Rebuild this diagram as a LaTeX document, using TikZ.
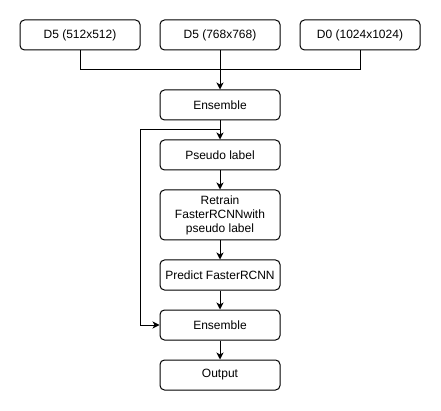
\documentclass[tikz,border=0pt]{standalone}
\usepackage{fontspec}
\setmainfont{Liberation Sans}
\usetikzlibrary{arrows.meta}
\begin{document}
\begin{tikzpicture}[x=1pt,y=-1pt,
  box/.style={draw=black,line width=1pt,rounded corners=4.5pt,minimum width=120pt,minimum height=30pt,inner sep=0pt,align=center,font=\fontsize{12}{14}\selectfont,fill=white},
  tallbox/.style={box,minimum height=50pt},
  conn/.style={draw=black,line width=1pt},
  arr/.style={conn,-{Stealth[length=7pt,width=7pt,inset=2pt]}}]
\useasboundingbox (0,0) rectangle (441,411);
\node[box] (d1) at (80,35) {D5 (512x512)};
\node[box] (d2) at (220,35) {D5 (768x768)};
\node[box] (d3) at (360,35) {D0 (1024x1024)};
\node[box] (e1) at (220,105) {Ensemble};
\node[box] (p) at (220,155) {Pseudo label};
\node[tallbox] (r) at (220,215) {Retrain\\FasterRCNNwith\\pseudo label};
\node[box] (pr) at (220,275) {Predict FasterRCNN};
\node[box] (e2) at (220,325) {Ensemble};
\node[box] (o) at (220,375) {Output};
\coordinate (j) at (220,70);
\coordinate (k) at (220,130);
\coordinate (l) at (140,130);
\draw[conn] (d1.south) |- (j);
\draw[conn] (d3.south) |- (j);
\draw[arr] (d2.south) -- (e1.north);
\draw[arr] (e1.south) -- (p.north);
\draw[arr] (k) -- (l) |- (e2.west);
\draw[arr] (p.south) -- (r.north);
\draw[arr] (r.south) -- (pr.north);
\draw[arr] (pr.south) -- (e2.north);
\draw[arr] (e2.south) -- (o.north);
\end{tikzpicture}
\end{document}
